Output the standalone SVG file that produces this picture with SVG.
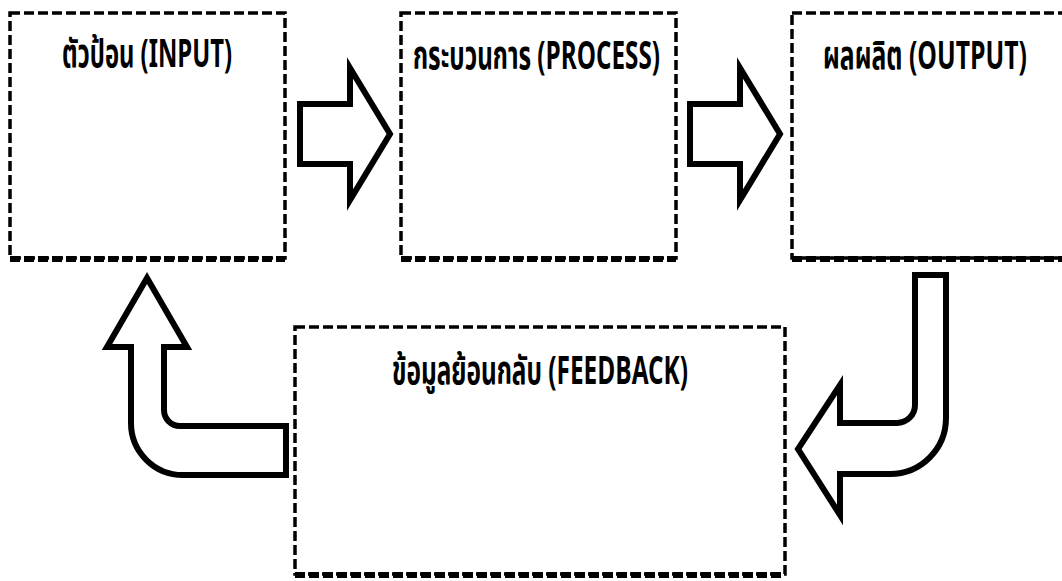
<svg xmlns="http://www.w3.org/2000/svg" width="1062" height="581" viewBox="0 0 1062 581">
<style>
.box{fill:#fff;stroke:#000;stroke-width:3.5;stroke-dasharray:10 4}
.bot{fill:none;stroke:#000;stroke-width:6;stroke-dasharray:10 4}
.lbl{font-family:"Noto Sans Thai","Noto Sans Thai Looped","Noto Sans","Liberation Sans",sans-serif;font-weight:bold;font-size:39px;fill:#000}
.arr{fill:#fff;stroke:#000;stroke-width:6;stroke-linejoin:miter}
</style>
<rect width="1062" height="581" fill="#fff"/>
<g id="input">
<rect class="box" x="10" y="13" width="275" height="245"/>
<line class="bot" x1="10" y1="259" x2="285" y2="259"/>
<text class="lbl" x="62" y="67" textLength="170" lengthAdjust="spacingAndGlyphs">ตัวป้อน (INPUT)</text>
</g>
<g id="process">
<rect class="box" x="401" y="13" width="275" height="245"/>
<line class="bot" x1="401" y1="259" x2="676" y2="259"/>
<text class="lbl" x="413" y="69" textLength="247" lengthAdjust="spacingAndGlyphs">กระบวนการ (PROCESS)</text>
</g>
<g id="output">
<rect class="box" x="792" y="13" width="300" height="245"/>
<line class="bot" x1="792" y1="259" x2="1070" y2="259"/>
<text class="lbl" x="823" y="69" textLength="204" lengthAdjust="spacingAndGlyphs">ผลผลิต (OUTPUT)</text>
</g>
<g id="feedback">
<rect class="box" x="295" y="327" width="490" height="247"/>
<line class="bot" x1="295" y1="575" x2="785" y2="575"/>
<text class="lbl" x="392" y="384" textLength="296" lengthAdjust="spacingAndGlyphs">ข้อมูลย้อนกลับ (FEEDBACK)</text>
</g>
<g id="connectors">
<path class="arr" d="M300,104 H350 V68 L390,134 L350,200 V164 H300 Z"/>
<path class="arr" d="M690,104 H740 V68 L780,134 L740,200 V164 H690 Z"/>
<path class="arr" d="M915,275 H946 V418 A56 56 0 0 1 890,474 H840 V515 L798,449 L840,385 V423 H897 A18 18 0 0 0 915,405 Z"/>
<path class="arr" d="M286,426 V475 H183 A52 52 0 0 1 131,423 V347 H107 L147,278 L187,347 H164 V410 A16 16 0 0 0 180,426 Z"/>
</g>
</svg>
